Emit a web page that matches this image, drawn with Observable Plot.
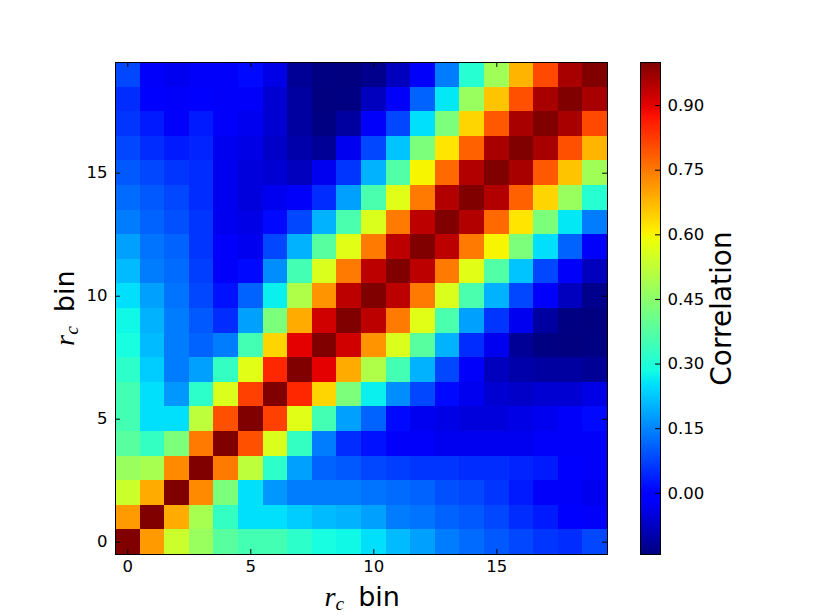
<!DOCTYPE html>
<html><head><meta charset="utf-8">
<script src="https://cdn.jsdelivr.net/npm/d3@7"></script>
<script src="https://cdn.jsdelivr.net/npm/@observablehq/plot@0.6"></script>
<style>
body{margin:0;background:#fff;}
#fig{position:relative;width:815px;height:615px;overflow:hidden;background:#fff;}
#fig svg{position:absolute;top:0;}
.lab{position:absolute;font-family:"DejaVu Sans";font-size:27px;white-space:nowrap;color:#000;line-height:1;}
.lab i{font-family:"Liberation Serif","DejaVu Serif";font-style:italic;font-size:1.05em;}
.lab sub{font-family:"Liberation Serif","DejaVu Serif";font-style:italic;font-size:0.72em;vertical-align:-0.2em;line-height:0;margin-right:14px;}
</style></head>
<body><div id="fig"></div>
<script>
const bins = [0,1,2,3,4,5,6,7,8,9,10,11,12,13,14,15,16,17,18,19];
const axisTicks = [0,5,10,15];
const cbTicks = [0,0.15,0.30,0.45,0.60,0.75,0.90];
const cbDomain = [-0.142, 1.0];
const axisLabelVar = "r";
const axisLabelSub = "c";
const axisLabelText = "bin";
const cbLabel = "Correlation";
// corr[i][j]: row i = y bin, column j = x bin
const corr = [
 [1.00,0.71,0.54,0.47,0.38,0.35,0.35,0.32,0.29,0.28,0.25,0.21,0.18,0.14,0.12,0.10,0.08,0.06,0.05,0.08],
 [0.71,1.00,0.69,0.49,0.33,0.25,0.25,0.23,0.21,0.20,0.18,0.14,0.13,0.11,0.10,0.08,0.05,0.03,-0.01,-0.02],
 [0.54,0.69,1.00,0.73,0.43,0.25,0.17,0.14,0.14,0.14,0.13,0.12,0.11,0.09,0.08,0.06,0.03,-0.02,-0.02,-0.03],
 [0.47,0.49,0.73,1.00,0.75,0.52,0.32,0.18,0.11,0.10,0.08,0.07,0.06,0.06,0.05,0.05,0.04,0.03,-0.01,-0.02],
 [0.38,0.33,0.43,0.75,1.00,0.80,0.56,0.33,0.14,0.05,0.02,-0.02,-0.02,-0.03,-0.03,-0.03,-0.03,-0.02,-0.02,-0.02],
 [0.35,0.25,0.25,0.52,0.80,1.00,0.82,0.57,0.35,0.18,0.11,0.01,-0.03,-0.04,-0.05,-0.05,-0.04,-0.03,-0.02,0.01],
 [0.35,0.25,0.17,0.32,0.56,0.82,1.00,0.85,0.64,0.43,0.27,0.16,0.08,0.01,-0.03,-0.06,-0.07,-0.06,-0.06,-0.04],
 [0.32,0.23,0.14,0.18,0.33,0.57,0.85,1.00,0.90,0.69,0.50,0.35,0.20,0.08,-0.02,-0.08,-0.10,-0.11,-0.11,-0.12],
 [0.29,0.21,0.14,0.11,0.14,0.35,0.64,0.90,1.00,0.92,0.72,0.56,0.38,0.20,0.05,-0.03,-0.12,-0.14,-0.142,-0.14],
 [0.28,0.20,0.14,0.10,0.05,0.18,0.43,0.69,0.92,1.00,0.94,0.75,0.57,0.36,0.18,0.06,-0.03,-0.11,-0.14,-0.142],
 [0.25,0.18,0.13,0.08,0.02,0.11,0.27,0.50,0.72,0.94,1.00,0.94,0.75,0.56,0.36,0.20,0.08,-0.02,-0.08,-0.13],
 [0.21,0.14,0.12,0.07,-0.02,0.01,0.16,0.35,0.56,0.75,0.94,1.00,0.94,0.75,0.57,0.37,0.22,0.08,-0.02,-0.08],
 [0.18,0.13,0.11,0.06,-0.02,-0.03,0.08,0.20,0.38,0.57,0.75,0.94,1.00,0.94,0.75,0.60,0.43,0.25,0.11,-0.02],
 [0.14,0.11,0.09,0.06,-0.03,-0.04,0.01,0.08,0.20,0.36,0.56,0.75,0.94,1.00,0.95,0.77,0.62,0.43,0.26,0.14],
 [0.12,0.10,0.08,0.05,-0.03,-0.05,-0.03,-0.02,0.05,0.18,0.36,0.57,0.75,0.95,1.00,0.95,0.78,0.64,0.47,0.31],
 [0.10,0.08,0.06,0.05,-0.03,-0.05,-0.06,-0.08,-0.03,0.06,0.20,0.37,0.60,0.77,0.95,1.00,0.96,0.79,0.66,0.48],
 [0.08,0.05,0.03,0.04,-0.03,-0.04,-0.07,-0.10,-0.12,-0.03,0.08,0.22,0.43,0.62,0.78,0.96,1.00,0.96,0.80,0.68],
 [0.06,0.03,-0.02,0.03,-0.02,-0.03,-0.06,-0.11,-0.14,-0.11,-0.02,0.08,0.25,0.43,0.64,0.79,0.96,1.00,0.96,0.81],
 [0.05,-0.01,-0.02,-0.01,-0.02,-0.02,-0.06,-0.11,-0.142,-0.14,-0.08,-0.02,0.11,0.26,0.47,0.66,0.80,0.96,1.00,0.96],
 [0.08,-0.02,-0.03,-0.02,-0.02,0.01,-0.04,-0.12,-0.14,-0.142,-0.13,-0.08,-0.02,0.14,0.31,0.48,0.68,0.81,0.96,1.00]
];

// matplotlib "jet" colormap
function seg(t, pts) {
  for (let k = 1; k < pts.length; k++) {
    if (t <= pts[k][0]) {
      const [t0, v0] = pts[k-1], [t1, v1] = pts[k];
      return v0 + (v1 - v0) * (t - t0) / (t1 - t0);
    }
  }
  return pts[pts.length-1][1];
}
function jet(t) {
  t = Math.max(0, Math.min(1, t));
  const r = seg(t, [[0,0],[0.35,0],[0.66,1],[0.89,1],[1,0.5]]);
  const g = seg(t, [[0,0],[0.125,0],[0.375,1],[0.64,1],[0.91,0],[1,0]]);
  const b = seg(t, [[0,0.5],[0.11,1],[0.34,1],[0.65,0],[1,0]]);
  return `rgb(${Math.round(r*255)},${Math.round(g*255)},${Math.round(b*255)})`;
}

const cells = corr.flatMap((row, i) => row.map((v, j) => ({row: bins[i], col: bins[j], v})));
const colorScale = {type: "linear", domain: cbDomain, interpolate: jet, clamp: true};
const font = {fontFamily: "DejaVu Sans", fontSize: "16.5px", color: "black", background: "transparent", overflow: "visible"};
const lo = -0.5, hi = bins.length - 0.5, tl = 0.2;

const main = Plot.plot({
  width: 640, height: 615,
  marginLeft: 115, marginRight: 33, marginTop: 62, marginBottom: 61,
  style: font,
  x: {domain: [lo, hi], axis: null},
  y: {domain: [lo, hi], axis: null},
  color: colorScale,
  marks: [
    Plot.rect(cells, {x1: d => d.col - 0.5, x2: d => d.col + 0.5, y1: d => d.row - 0.5, y2: d => d.row + 0.5, fill: "v", shapeRendering: "crispEdges"}),
    Plot.ruleX(axisTicks, {x: d => d, y1: lo, y2: lo + tl, stroke: "black"}),
    Plot.ruleX(axisTicks, {x: d => d, y1: hi, y2: hi - tl, stroke: "black"}),
    Plot.ruleY(axisTicks, {y: d => d, x1: lo, x2: lo + tl, stroke: "black"}),
    Plot.ruleY(axisTicks, {y: d => d, x1: hi, x2: hi - tl, stroke: "black"}),
    Plot.frame({stroke: "black"}),
    Plot.axisX(axisTicks, {tickSize: 0, tickPadding: 6, label: null, fontSize: 16.5}),
    Plot.axisY(axisTicks, {tickSize: 0, tickPadding: 8, label: null, fontSize: 16.5})
  ]
});
main.style.left = "0px";

const cbar = Plot.plot({
  width: 180, height: 615,
  marginLeft: 5, marginRight: 155, marginTop: 62, marginBottom: 61,
  style: font,
  x: {domain: [0, 1], axis: null},
  y: {domain: cbDomain, axis: null},
  color: colorScale,
  marks: [
    Plot.raster({x1: 0, x2: 1, y1: cbDomain[0], y2: cbDomain[1], width: 1, height: 512, fill: (x, y) => y, imageRendering: "auto"}),
    Plot.ruleY(cbTicks, {y: d => d, x1: 0.75, x2: 1, stroke: "black"}),
    Plot.frame({stroke: "black"}),
    Plot.axisY(cbTicks, {anchor: "right", tickSize: 0, tickPadding: 7, tickFormat: d3.format(".2f"), label: null, fontSize: 16.5}),
    Plot.text([cbLabel], {text: d => d, frameAnchor: "middle", dx: 72, rotate: -90, fontSize: 28, fontFamily: "DejaVu Sans"})
  ]
});
cbar.style.left = "635px";

const fig = document.getElementById("fig");
fig.appendChild(main);
fig.appendChild(cbar);

function makeLabel() {
  const d = document.createElement("div");
  d.className = "lab";
  const i = document.createElement("i"); i.textContent = axisLabelVar;
  const s = document.createElement("sub"); s.textContent = axisLabelSub;
  d.appendChild(i); d.appendChild(s);
  d.appendChild(document.createTextNode(axisLabelText));
  return d;
}
const xl = makeLabel();
fig.appendChild(xl);
const xw = xl.offsetWidth, xh = xl.offsetHeight;
xl.style.left = (362 - xw / 2) + "px";
xl.style.top = "583px";

const yl = makeLabel();
fig.appendChild(yl);
const yw = yl.offsetWidth, yh = yl.offsetHeight;
yl.style.left = (64 - yw / 2) + "px";
yl.style.top = (308 - yh / 2) + "px";
yl.style.transform = "rotate(-90deg)";
</script>
</body></html>
